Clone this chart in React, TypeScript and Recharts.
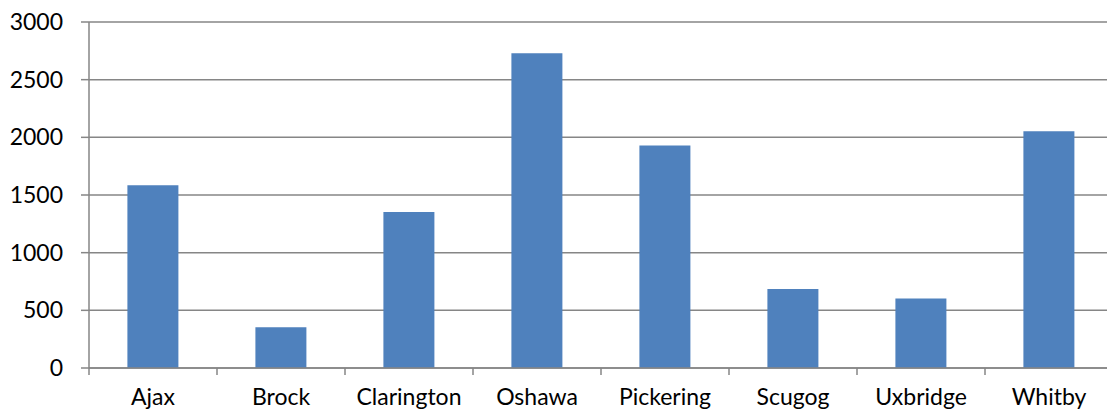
import React from "react";
import { BarChart, Bar, XAxis, YAxis, CartesianGrid } from "recharts";

const categories = ["Ajax", "Brock", "Clarington", "Oshawa", "Pickering", "Scugog", "Uxbridge", "Whitby"];
const values = [1585, 353, 1352, 2730, 1930, 686, 602, 2053];
const yTicks = [0, 500, 1000, 1500, 2000, 2500, 3000];

const data = categories.map((name, i) => ({ name, value: values[i] }));

// the source picture is cropped on the right: the plot runs a few px past the frame
const VIEW_W = 1107;
const W = 1114;
const H = 413;
const LEFT = 89;
const RIGHT = 1;
const PLOT_W = W - LEFT - RIGHT;
const BAND = PLOT_W / categories.length;
const GRAY = "#868686";
const FONT = "Lato, 'DejaVu Sans', sans-serif";
const TICK_SIZE = 7;
const TICK_MARGIN = 14;

const XTick = (props: any) => {
  const { x, y, index, payload } = props;
  const axisY = y - TICK_SIZE - TICK_MARGIN;
  const left = x - BAND / 2;
  const right = x + BAND / 2;
  return (
    <g>
      <line x1={left} y1={axisY} x2={left} y2={axisY + TICK_SIZE} stroke={GRAY} strokeWidth={1.5} />
      {index === categories.length - 1 && (
        <line x1={right} y1={axisY} x2={right} y2={axisY + TICK_SIZE} stroke={GRAY} strokeWidth={1.5} />
      )}
      <text x={x} y={y} dy="0.71em" textAnchor="middle" fill="#000" fontSize={23} fontFamily={FONT}>
        {payload.value}
      </text>
    </g>
  );
};

export default function App() {
  return (
    <div style={{ position: "absolute", left: 0, top: 0, width: VIEW_W, height: H, overflow: "hidden", background: "#fff" }}>
      <BarChart
        width={W}
        height={H}
        data={data}
        margin={{ top: 22, right: RIGHT, bottom: 0, left: 0 }}
        barCategoryGap="30%"
      >
        <CartesianGrid vertical={false} stroke={GRAY} strokeWidth={1.5} strokeOpacity={1} />
        <XAxis
          dataKey="name"
          height={45}
          axisLine={{ stroke: GRAY, strokeWidth: 1.5 }}
          tickLine={false}
          tick={<XTick />}
          tickSize={TICK_SIZE}
          tickMargin={TICK_MARGIN}
          interval={0}
        />
        <YAxis
          width={LEFT}
          domain={[0, 3000]}
          ticks={yTicks}
          axisLine={{ stroke: GRAY, strokeWidth: 1.5 }}
          tickLine={{ stroke: GRAY, strokeWidth: 1.5 }}
          tickSize={8}
          tickMargin={18}
          tick={{ fill: "#000", fontSize: 23, fontFamily: FONT }}
          interval={0}
        />
        <Bar dataKey="value" fill="#4F81BD" isAnimationActive={false} />
      </BarChart>
    </div>
  );
}
